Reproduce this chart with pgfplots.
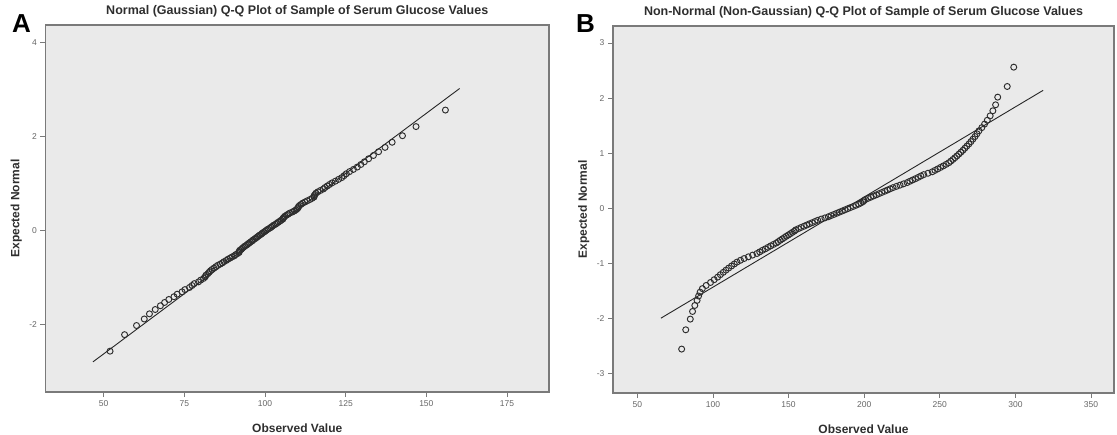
\documentclass[border=0pt]{standalone}
\usepackage{fontspec}
\setmainfont{Liberation Sans}
\usepackage{pgfplots}
\pgfplotsset{compat=1.18}
\definecolor{plotbg}{HTML}{EAEAEA}
\definecolor{frame}{HTML}{7A7A7A}
\definecolor{ink}{HTML}{2E2E2E}
\pgfplotsset{
  qq/.style={
    scale only axis, axis background/.style={fill=plotbg},
    axis line style={draw=frame, line width=1.3pt},
    tick align=outside, xtick pos=bottom, ytick pos=left,
    major tick length=5pt, tick style={draw=frame, line width=0.9pt},
    ticklabel style={font=\fontsize{8.5}{9}\selectfont, text=black!60},
    /pgf/number format/assume math mode=true,
    title style={font=\bfseries\fontsize{12.5}{14}\selectfont, text=ink,
      at={(0.5,1)}, anchor=base, yshift=5pt},
    label style={font=\bfseries\fontsize{12}{14}\selectfont, text=ink},
    xlabel style={at={(axis description cs:0.5,-0.111)}, anchor=base},
    ylabel style={at={(axis description cs:-0.0517,0.5)}, anchor=base},
    pts/.style={only marks, mark=o, mark size=3pt,
      mark options={draw=ink, line width=0.95pt}},
    fit/.style={black!85, line width=0.9pt},
  },
}
\begin{document}
\begin{tikzpicture}[x=1pt,y=1pt]
\useasboundingbox (0,0) rectangle (1117,434);
\node[anchor=base west, font=\bfseries\fontsize{26}{28}\selectfont, inner sep=0] at (12,401) {A};
\node[anchor=base west, font=\bfseries\fontsize{26}{28}\selectfont, inner sep=0] at (576,401) {B};

\begin{axis}[qq, at={(45.5pt,42pt)}, anchor=south west,
  width=503.5pt, height=367pt,
  xmin=32, xmax=188, ymin=-3.43, ymax=4.37,
  xtick={50,75,100,125,150,175}, ytick={-2,0,2,4},
  title={Normal (Gaussian) Q-Q Plot of Sample of Serum Glucose Values},
  xlabel={Observed Value}, ylabel={Expected Normal}]
\addplot[pts] table {
52.0 -2.562
56.5 -2.211
60.2 -2.017
62.6 -1.878
64.2 -1.769
66.0 -1.677
67.6 -1.597
68.9 -1.527
70.2 -1.463
71.8 -1.405
72.8 -1.351
74.3 -1.301
75.2 -1.254
76.6 -1.209
77.4 -1.167
78.1 -1.127
79.4 -1.089
80.1 -1.051
81.0 -1.015
81.5 -0.981
81.7 -0.948
82.3 -0.916
82.7 -0.885
83.1 -0.854
83.6 -0.825
84.2 -0.796
84.8 -0.767
85.3 -0.740
86.1 -0.713
86.8 -0.686
87.3 -0.660
88.0 -0.634
88.5 -0.609
89.2 -0.584
89.8 -0.559
90.5 -0.535
90.9 -0.511
91.5 -0.488
92.0 -0.464
92.0 -0.441
92.2 -0.418
92.7 -0.396
93.0 -0.373
93.4 -0.351
93.8 -0.329
94.3 -0.307
94.7 -0.285
95.1 -0.264
95.5 -0.242
96.0 -0.221
96.3 -0.199
96.8 -0.178
97.2 -0.157
97.6 -0.136
98.0 -0.115
98.4 -0.094
98.9 -0.073
99.2 -0.052
99.7 -0.031
100.1 -0.010
100.5 0.010
100.9 0.031
101.5 0.052
101.9 0.073
102.3 0.094
102.7 0.115
103.3 0.136
103.7 0.157
104.1 0.178
104.6 0.199
105.0 0.221
105.5 0.242
105.6 0.264
105.9 0.285
106.2 0.307
106.7 0.329
107.2 0.351
107.7 0.373
108.5 0.396
109.1 0.418
109.6 0.441
110.0 0.464
110.3 0.488
110.4 0.511
110.7 0.535
111.2 0.559
111.7 0.584
112.4 0.609
113.1 0.634
113.9 0.660
114.6 0.686
115.2 0.713
115.2 0.740
115.5 0.767
115.8 0.796
116.4 0.825
117.2 0.854
118.1 0.885
118.6 0.916
119.3 0.948
120.0 0.981
120.8 1.015
121.8 1.051
122.8 1.089
123.8 1.127
124.5 1.167
125.2 1.209
126.2 1.254
127.4 1.301
128.6 1.351
129.7 1.405
130.8 1.463
132.1 1.527
133.6 1.597
135.2 1.677
137.2 1.769
139.4 1.878
142.6 2.017
146.8 2.211
155.9 2.562
};
\addplot[fit] coordinates {(46.7,-2.79) (160.3,3.02)};
\end{axis}

\begin{axis}[qq, at={(613pt,41pt)}, anchor=south west,
  width=501pt, height=367pt,
  xmin=33.9, xmax=365.2, ymin=-3.36, ymax=3.31,
  xtick={50,100,150,200,250,300,350}, ytick={-3,-2,-1,0,1,2,3},
  title={Non-Normal (Non-Gaussian) Q-Q Plot of Sample of Serum Glucose Values},
  xlabel={Observed Value}, ylabel={Expected Normal},
  xlabel style={at={(axis description cs:0.5,-0.109)}},
  ylabel style={at={(axis description cs:-0.052,0.5)}}]
\addplot[pts] table {
79.3 -2.562
82.0 -2.211
85.0 -2.017
86.5 -1.878
88.0 -1.769
89.5 -1.677
90.5 -1.597
91.5 -1.527
93.0 -1.463
95.5 -1.405
98.4 -1.351
100.8 -1.301
103.1 -1.254
104.9 -1.209
106.8 -1.167
108.6 -1.127
110.4 -1.089
112.3 -1.051
114.1 -1.015
115.9 -0.981
118.2 -0.948
120.6 -0.916
123.4 -0.885
126.2 -0.854
129.1 -0.825
130.9 -0.796
132.7 -0.767
134.6 -0.740
136.4 -0.713
138.2 -0.686
140.0 -0.660
141.9 -0.634
143.2 -0.609
144.5 -0.584
145.9 -0.559
147.2 -0.535
148.5 -0.511
149.9 -0.488
151.2 -0.464
152.5 -0.441
153.8 -0.418
154.7 -0.396
156.5 -0.373
158.3 -0.351
160.2 -0.329
162.0 -0.307
163.8 -0.285
165.7 -0.264
167.5 -0.242
169.3 -0.221
171.6 -0.199
174.0 -0.178
176.3 -0.157
178.1 -0.136
180.0 -0.115
181.8 -0.094
183.6 -0.073
185.5 -0.052
187.3 -0.031
189.1 -0.010
190.9 0.010
192.8 0.031
194.6 0.052
196.4 0.073
197.8 0.094
199.1 0.115
199.9 0.136
200.8 0.157
202.6 0.178
204.4 0.199
206.2 0.221
208.1 0.242
209.9 0.264
211.7 0.285
213.6 0.307
215.4 0.329
217.2 0.351
219.1 0.373
221.4 0.396
223.7 0.418
226.0 0.441
228.4 0.464
230.2 0.488
232.0 0.511
233.9 0.535
235.7 0.559
237.5 0.584
239.4 0.609
242.2 0.634
245.0 0.660
246.8 0.686
248.7 0.713
250.5 0.740
252.3 0.767
254.2 0.796
256.0 0.825
257.3 0.854
258.7 0.885
260.0 0.916
261.3 0.948
262.6 0.981
263.9 1.015
265.3 1.051
266.6 1.089
267.9 1.127
269.3 1.167
270.6 1.209
271.9 1.254
273.3 1.301
274.6 1.351
275.9 1.405
277.8 1.463
279.6 1.527
281.4 1.597
283.3 1.677
285.1 1.769
286.9 1.878
288.3 2.017
294.6 2.211
298.9 2.562
};
\addplot[fit] coordinates {(65.6,-2.0) (318.3,2.14)};
\end{axis}
\end{tikzpicture}
\end{document}
